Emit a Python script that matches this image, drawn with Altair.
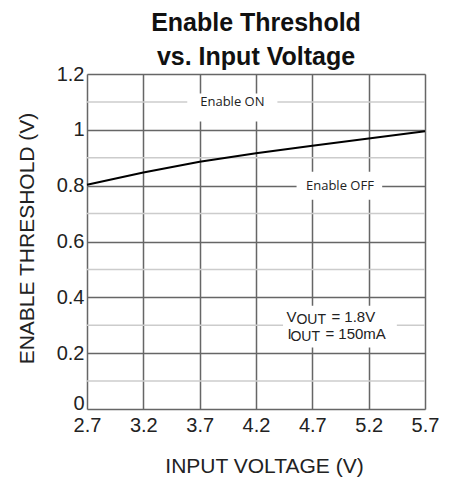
import altair as alt
import pandas as pd

# curve data
vin = [2.7, 3.2, 3.7, 4.2, 4.7, 5.2, 5.7]
vth = [0.803, 0.847, 0.886, 0.916, 0.943, 0.969, 0.995]

x_ticks = [2.7, 3.2, 3.7, 4.2, 4.7, 5.2, 5.7]
y_ticks = [0, 0.2, 0.4, 0.6, 0.8, 1.0, 1.2]
y_minor = [0.1, 0.3, 0.5, 0.7, 0.9, 1.1]

# annotation label boxes (data units)
box_x = [3.59, 4.56, 4.44]
box_x2 = [4.39, 5.32, 5.45]
box_y = [1.03, 0.75, 0.22]
box_y2 = [1.13, 0.85, 0.37]

labels = ["Enable ON", "Enable OFF"]
label_x = [3.99, 4.945]
label_y = [1.1, 0.8]

cond_x = 4.47
cond_y = [0.33, 0.27]

curve = pd.DataFrame({"vin": vin, "vth": vth})
boxes = pd.DataFrame({"x": box_x, "x2": box_x2, "y": box_y, "y2": box_y2})
lab = pd.DataFrame({"x": label_x, "y": label_y, "t": labels})
minor = pd.DataFrame({"y": y_minor})
cond = pd.DataFrame({"x": [cond_x], "y1": [cond_y[0]], "y2": [cond_y[1]]})

FONT = "Liberation Sans"
xscale = alt.Scale(domain=[2.7, 5.7], nice=False, zero=False)
yscale = alt.Scale(domain=[0, 1.2], nice=False)

xax = alt.Axis(values=x_ticks, format=".1f", title="INPUT VOLTAGE (V)", grid=True,
               gridColor="#666666", gridWidth=1.5, ticks=False, domain=False,
               labelFont=FONT, labelFontSize=20, labelColor="#222222", labelPadding=6,
               titleFont=FONT, titleFontSize=21, titleFontWeight="normal", titleColor="#222222",
               titleX=177, titleY=63, titleBaseline="alphabetic", labelFlush=False)
yax = alt.Axis(values=y_ticks, title="ENABLE THRESHOLD (V)", grid=True,
               gridColor="#666666", gridWidth=1.5, ticks=False, domain=False,
               labelExpr="datum.value == 0 ? '0' : datum.value == 1 ? '1' : format(datum.value, '.1f')",
               labelFont=FONT, labelFontSize=20, labelColor="#222222", labelPadding=3,
               labelBaseline={"condition": {"test": "datum.value == 0", "value": "alphabetic"}, "value": "middle"},
               titleFont=FONT, titleFontSize=21, titleFontWeight="normal", titleColor="#222222",
               titleX=-54, titleY=164, titleBaseline="alphabetic", titleAlign="center")

base_line = alt.Chart(curve).mark_line(color="black", strokeWidth=2).encode(
    x=alt.X("vin:Q", scale=xscale, axis=xax),
    y=alt.Y("vth:Q", scale=yscale, axis=yax),
)

minor_rules = alt.Chart(minor).mark_rule(color="#cccccc", strokeWidth=1.5).encode(
    y=alt.Y("y:Q", scale=yscale)
)

rects = alt.Chart(boxes).mark_rect(color="white").encode(
    x=alt.X("x:Q", scale=xscale), x2="x2:Q",
    y=alt.Y("y:Q", scale=yscale), y2="y2:Q",
)

texts = alt.Chart(lab).mark_text(font="Open Sans", fontSize=13, color="#222222").encode(
    x=alt.X("x:Q", scale=xscale), y=alt.Y("y:Q", scale=yscale), text="t:N"
)

def piece(field, txt, dx, dy, size):
    return alt.Chart(cond).mark_text(font=FONT, fontSize=size, color="#222222", align="left",
                                      baseline="middle", dx=dx, dy=dy, text=txt).encode(
        x=alt.X("x:Q", scale=xscale), y=alt.Y(field + ":Q", scale=yscale)
    )

cond_text = (piece("y1", "V", 0, 0, 15) + piece("y1", "OUT", 10, 3, 14) + piece("y1", "= 1.8V", 45, 0, 15)
             + piece("y2", "I", 1, 0, 15) + piece("y2", "OUT", 4, 3, 14) + piece("y2", "= 150mA", 39, 0, 15))

chart = alt.layer(minor_rules, base_line.mark_line(opacity=0), rects, base_line, texts, cond_text).properties(
    width=338, height=335,
    title=alt.TitleParams(["Enable Threshold", "vs. Input Voltage"], font=FONT, fontSize=25,
                          fontWeight="bold", color="#111111", anchor="middle", frame="group",
                          lineHeight=34, offset=-6),
    autosize=alt.AutoSizeParams(type="none"),
    padding={"left": 79, "top": 66, "right": 25, "bottom": 68},
).configure_view(stroke="black", strokeWidth=2).configure(background="white")

chart.save("out.html", embed_options={"renderer": "svg", "actions": False})
